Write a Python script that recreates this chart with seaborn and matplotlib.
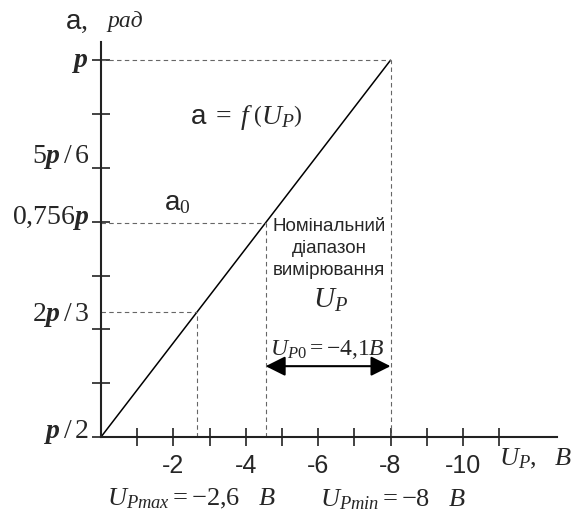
import numpy as np
import pandas as pd
import matplotlib
matplotlib.use('Agg')
import matplotlib.pyplot as plt
import matplotlib.transforms as mtransforms
import seaborn as sns

sns.set_theme(style='white')
plt.rcParams['font.family'] = ['Liberation Sans', 'DejaVu Sans']
plt.rcParams['mathtext.fontset'] = 'custom'
plt.rcParams['mathtext.rm'] = 'Liberation Serif'
plt.rcParams['mathtext.it'] = 'Liberation Serif:italic'
plt.rcParams['mathtext.bf'] = 'Liberation Serif:bold'
plt.rcParams['mathtext.bfit'] = 'Liberation Serif:italic:bold'
plt.rcParams['mathtext.sf'] = 'Liberation Sans'

# характеристика a = f(U_P), кут у частках pi
up_line = [0.0, -8.0]
alpha_line = [0.5, 1.0]

# опорні точки (пунктир)
up_marks = [-2.65, -4.55, -8.0]
alpha_marks = [0.666, 0.784, 1.0]

# осі
x_ticks = [-1, -2, -3, -4, -5, -6, -7, -8, -9, -10, -11]
x_labeled = [-2, -4, -6, -8, -10]
y_ticks = [0.5, 0.5714, 0.6429, 0.7143, 0.7857, 0.8571, 0.9286, 1.0]
y_label_pos = [0.997, 0.871, 0.790, 0.662, 0.507]
y_label_txt = [r'$\boldsymbol{p}$', r'$5\boldsymbol{p}\,/\,6$', r'$0{,}756\boldsymbol{p}$',
               r'$2\boldsymbol{p}\,/\,3$', r'$\boldsymbol{p}\,/\,2$']

df = pd.DataFrame({'UP': up_line, 'alpha': alpha_line})

fig = plt.figure(figsize=(5.79, 5.2), dpi=100)
ax = fig.add_axes([0.1744, 0.1596, 0.7876, 0.7594])

sns.lineplot(data=df, x='UP', y='alpha', color='black', lw=1.1, ax=ax)

dash = dict(color='#666666', lw=0.8, ls=(0, (4, 3)))
for u, a in zip(up_marks, alpha_marks):
    ax.plot([0, u], [a, a], **dash)
    ax.plot([u, u], [0.5, a], **dash)

ax.set_xlim(0, -12.6)
ax.set_ylim(0.5, 1.024)

for s in ['top', 'right']:
    ax.spines[s].set_visible(False)
for s in ['left', 'bottom']:
    ax.spines[s].set_color('#222222')
    ax.spines[s].set_linewidth(1.5)

ax.set_xticks(x_ticks)
ax.set_xticklabels([str(v) if v in x_labeled else '' for v in x_ticks], fontsize=18)
ax.set_yticks(y_ticks)
ax.set_yticklabels([])
ax.tick_params(axis='both', direction='inout', length=13, width=1.2, color='#222222',
               bottom=True, left=True, pad=6)
ax.set_xlabel('')
ax.set_ylabel('')

# підписи осі Y
tr = mtransforms.blended_transform_factory(ax.transAxes, ax.transData)
for pos, txt in zip(y_label_pos, y_label_txt):
    ax.text(-0.026, pos, txt, transform=tr, ha='right', va='center', fontsize=20)

fig.text(0.113, 0.958, r'$\mathsf{a},$', fontsize=20, ha='left', va='center')
fig.text(0.185, 0.958, 'рад', fontsize=17, family='Liberation Serif', style='italic',
         ha='left', va='center')

fig.text(0.862, 0.117, r'$U_P,\;\;\, B$', fontsize=19, ha='left', va='center')

ax.text(-2.45, 0.924, r'$\mathsf{a}\; =\; f\;\left(U_P\right)$', fontsize=20,
        ha='left', va='center')
ax.text(-1.75, 0.81, r'$\mathsf{a}_0$', fontsize=20, ha='left', va='center')

ax.text(-6.3, 0.791, 'Номінальний\nдіапазон\nвимірювання', fontsize=13.5, ha='center',
        va='top', linespacing=1.4)
ax.text(-6.35, 0.682, r'$U_P$', fontsize=21, ha='center', va='center')
ax.text(-6.25, 0.616, r'$U_{P0} = -4{,}1B$', fontsize=17, ha='center', va='center')

ax.annotate('', xy=(-4.55, 0.594), xytext=(-8.0, 0.594),
            arrowprops=dict(arrowstyle='<|-|>', color='black', lw=1.5,
                            mutation_scale=30, shrinkA=0, shrinkB=0))

fig.text(0.185, 0.04, r'$U_{Pmax} = -2{,}6\quad B$', fontsize=19, ha='left', va='center')
fig.text(0.552, 0.04, r'$U_{Pmin} = -8\quad B$', fontsize=19, ha='left', va='center')

fig.savefig('out.png', dpi=100, facecolor='white')
